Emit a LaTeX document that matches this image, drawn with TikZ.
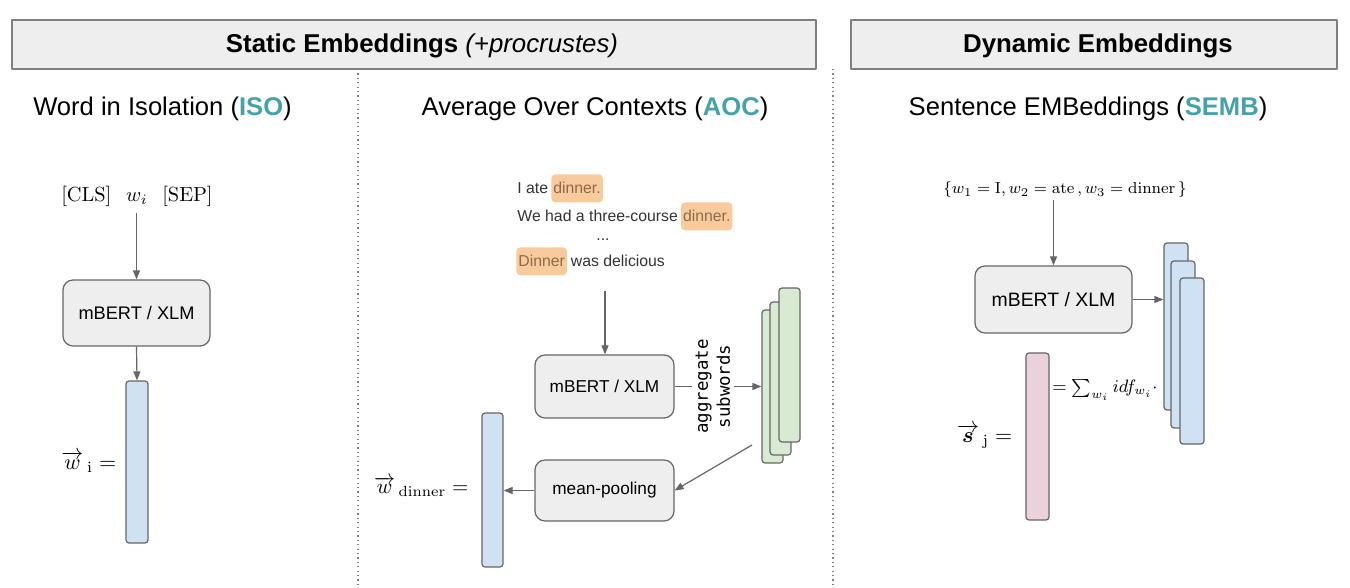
\RequirePackage{fix-cm}
\documentclass[tikz,border=0pt]{standalone}
\usepackage{amsmath,amssymb}
\usepackage[no-math]{fontspec}
\setmainfont{Liberation Sans}
\newfontfamily\aggfont{DejaVu Sans Mono}
\usepackage{xcolor}
\usetikzlibrary{arrows.meta}
\definecolor{boxgray}{HTML}{EEEEEE}
\definecolor{linegray}{HTML}{666666}
\definecolor{acrteal}{HTML}{45A2A8}
\definecolor{vecblue}{HTML}{CFE2F3}
\definecolor{vecgreen}{HTML}{D9EAD3}
\definecolor{vecpink}{HTML}{EAD1DC}
\definecolor{hlorange}{HTML}{F9CB9C}
\definecolor{hltext}{HTML}{8C6A4B}
\definecolor{senttext}{HTML}{333333}
\newcommand{\fsz}[1]{\fontsize{#1}{#1}\selectfont}

\begin{document}
\begin{tikzpicture}[x=0.5pt,y=-0.5pt,line join=round,
    headbox/.style={draw=gray,fill=boxgray,line width=0.7pt,inner sep=0pt,font=\fsz{12.9}},
    model/.style={draw=linegray,fill=boxgray,rounded corners=5pt,line width=0.6pt,inner sep=0pt},
    vecbar/.style={draw=linegray,rounded corners=1.5pt,line width=0.6pt,inner sep=0pt},
    arr/.style={draw=linegray,line width=0.6pt,-{Triangle[length=4.5pt,width=3.5pt]}},
    sent/.style={inner sep=0pt,text=senttext,font=\fsz{7.9}},
    hlword/.style={fill=hlorange,rounded corners=2pt,inner xsep=1pt,inner ysep=0pt,
      text=hltext,font=\fsz{7.9},minimum height=14pt},
    colsep/.style={draw=gray,line width=0.6pt,dash pattern=on 0.6pt off 1.6pt},
    method/.style={font=\fsz{12.8}}]
  \useasboundingbox (0,0) rectangle (1350,588);
  % headers
  \node[headbox,minimum width=402pt,minimum height=24.5pt] (statichead) at (414,44.5) {};
  \node[font=\fsz{12.9}] at (422,46) {\textbf{Static Embeddings} \textit{(+procrustes)}};
  \node[headbox,minimum width=243pt,minimum height=24.5pt] (dynhead) at (1094,44.5) {};
  \node[font=\fsz{12.9}] at (1098,46) {\textbf{Dynamic Embeddings}};
  \draw[colsep] (358,69) -- (358,588);
  \draw[colsep] (833,69) -- (833,588);
  \node[method] (isohead) at (162.5,108.5) {Word in Isolation (\textcolor{acrteal}{\textbf{ISO}})};
  \node[method] (aochead) at (595,108.5) {Average Over Contexts (\textcolor{acrteal}{\textbf{AOC}})};
  \node[method] (sembhead) at (1088,108.5) {Sentence EMBeddings (\textcolor{acrteal}{\textbf{SEMB}})};

  % ISO
  \node[font=\fsz{10.2}] (isoin) at (137,196) {$[\mathrm{CLS}]\;\;\, w_i\;\;\, [\mathrm{SEP}]$};
  \node[model,minimum width=73.5pt,minimum height=33pt,font=\fsz{9.1}] (isobox) at (136.5,313) {mBERT / XLM};
  \node[vecbar,fill=vecblue,minimum width=11pt,minimum height=81pt] (isobar) at (137,462) {};
  \node[anchor=east,font=\fsz{11}] (isolab) at ([xshift=-1pt]isobar.west) {$\overrightarrow{w}\,_{\mathrm{i}} =$};
  \draw[arr] (isobox.north |- isoin.south) -- (isobox.north);
  \draw[arr] (isobox.south) -- (isobar.north);

  % AOC
  \node[sent,anchor=base west] (s1) at (517,194) {I ate};
  \node[hlword,anchor=base west] (d1) at ([xshift=1.2pt]s1.base east) {dinner.};
  \node[sent,anchor=base west] (s2) at (517,222) {We had a three-course};
  \node[hlword,anchor=base west] (d2) at ([xshift=1.2pt]s2.base east) {dinner.};
  \node[sent,anchor=base] (dots) at (603,241) {...};
  \node[hlword,anchor=base west] (d3) at (516,267) {Dinner};
  \node[sent,anchor=base west] (s3) at ([xshift=1.6pt]d3.base east) {was delicious};
  \coordinate (ctx) at (605,291);
  \node[model,minimum width=69.5pt,minimum height=31.5pt,font=\fsz{8.6}] (aocbox) at (604.5,386.5) {mBERT / XLM};
  \draw[arr] (ctx) -- (ctx |- aocbox.north);
  \node[rotate=90,align=center,inner sep=1.5pt,font=\aggfont\fontsize{8.7}{11}\selectfont] (agg) at (713,386.5)
    {aggregate\\subwords};
  \node[vecbar,fill=vecgreen,minimum width=10.5pt,minimum height=76.5pt] (gA) at (772.5,386.5) {};
  \node[vecbar,fill=vecgreen,minimum width=10.5pt,minimum height=76.5pt] (gB) at (780.5,378.5) {};
  \node[vecbar,fill=vecgreen,minimum width=10.5pt,minimum height=77pt] (gC) at (789.5,365) {};
  \draw[linegray,line width=0.6pt] (aocbox.east) -- (agg.north);
  \draw[arr] (agg.south) -- (gA.west);
  \coordinate (gtail) at (752,445);
  \node[model,minimum width=69.5pt,minimum height=30.5pt,font=\fsz{8.6}] (mpbox) at (604.5,490.5) {mean-pooling};
  \draw[arr] (gtail) -- (mpbox.east);
  \node[vecbar,fill=vecblue,minimum width=10.5pt,minimum height=77pt] (aocbar) at (492.5,490) {};
  \draw[arr] (mpbox.west) -- (mpbox.west -| aocbar.east);
  \node[anchor=east,font=\fsz{10.5}] (aoclab) at ([xshift=-3pt,yshift=1.5pt]aocbar.west)
    {$\overrightarrow{w}\,_{\mathrm{dinner}} =$};

  % SEMB
  \node[inner sep=1pt,font=\fsz{8}] (semin) at (1065,190)
    {$\{w_1 = \mathrm{I}, w_2 = \mathrm{ate}\,, w_3 = \mathrm{dinner}\,\}$};
  \node[model,minimum width=78.5pt,minimum height=33.5pt,font=\fsz{9.7}] (sembox) at (1053.5,299.5) {mBERT / XLM};
  \draw[arr] (sembox.north |- semin.south) -- (sembox.north);
  \node[vecbar,fill=vecblue,minimum width=12pt,minimum height=83.5pt] (bA) at (1176,326.5) {};
  \node[vecbar,fill=vecblue,minimum width=12pt,minimum height=83.5pt] (bB) at (1183,344.5) {};
  \node[vecbar,fill=vecblue,minimum width=12pt,minimum height=83pt] (bC) at (1192,361) {};
  \draw[arr] (sembox.east) -- (sembox.east -| bA.west);
  \node[vecbar,fill=vecpink,minimum width=11.5pt,minimum height=83.5pt] (pinkbar) at (1037.5,436.5) {};
  \node[anchor=west,inner sep=1pt,font=\fsz{9}] (sumf) at (1050,390) {$= \sum_{w_i} idf_{w_i} \cdot$};
  \node[anchor=east,font=\fsz{11}] (semlab) at ([xshift=-3pt]pinkbar.west)
    {$\overrightarrow{\boldsymbol{s}}\,_{\mathrm{j}} =$};
\end{tikzpicture}
\end{document}
